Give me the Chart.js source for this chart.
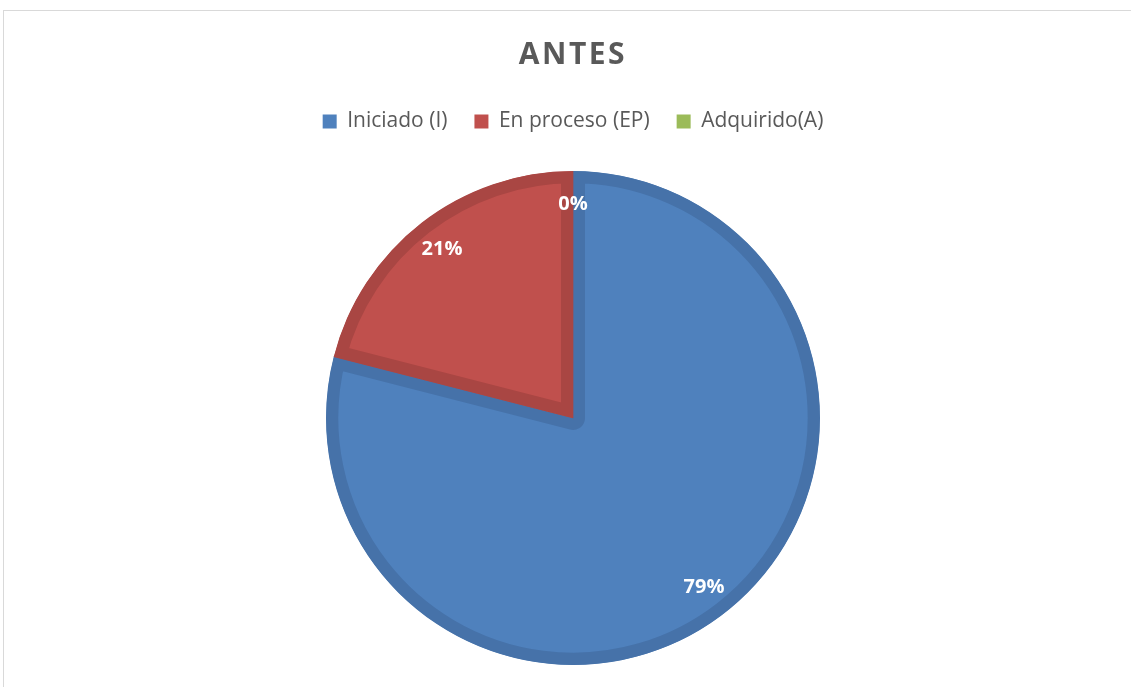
<!DOCTYPE html>
<html>
<head>
<meta charset="utf-8">
<script src="https://cdn.jsdelivr.net/npm/chart.js@4/dist/chart.umd.min.js"></script>
<style>
  html, body { margin: 0; padding: 0; background: #fff; overflow: hidden; }
  #frame {
    position: absolute; left: 3px; top: 10px; width: 1200px; height: 800px;
    border-top: 1px solid #d9d9d9; border-left: 1px solid #d9d9d9;
  }
  #wrap { position: absolute; left: 15px; top: 0; width: 1116px; height: 687px; }
</style>
</head>
<body>
<div id="frame"></div>
<div id="wrap"><canvas id="chart"></canvas></div>
<script>
'use strict';

// ---- data ----
var TITLE      = 'ANTES';
var CATEGORIES = ['Iniciado (I)', 'En proceso (EP)', 'Adquirido(A)'];
var PERCENTS   = [79, 21, 0];
var FILLS      = ['#4f81bd', '#c0504d', '#9bbb59'];
var EDGES      = ['#4672a9', '#a94643', '#8aa84f'];

var FONT = '"Open Sans", "Liberation Sans", sans-serif';
var TEXT = '#595959';

// extra room under the legend, and a little letter spacing on the title
var layoutTweaks = {
  id: 'layoutTweaks',
  beforeInit: function (chart) {
    var fit = chart.legend.fit;
    chart.legend.fit = function () { fit.call(this); this.height += 29; };
    var drawTitle = chart.titleBlock.draw;
    chart.titleBlock.draw = function () {
      var ctx = this.ctx;
      var prev = ctx.letterSpacing;
      ctx.letterSpacing = '2.5px';
      drawTitle.apply(this, arguments);
      ctx.letterSpacing = prev || '0px';
    };
  }
};

// white percentage labels inside the slices
var sliceLabels = {
  id: 'sliceLabels',
  afterDatasetsDraw: function (chart) {
    var ctx = chart.ctx;
    var arcs = chart.getDatasetMeta(0).data;
    ctx.save();
    ctx.font = 'bold 20px ' + FONT;
    ctx.fillStyle = '#ffffff';
    ctx.textAlign = 'center';
    ctx.textBaseline = 'middle';
    arcs.forEach(function (arc, i) {
      var mid = (arc.startAngle + arc.endAngle) / 2;
      var r = arc.outerRadius * 0.865;
      ctx.fillText(PERCENTS[i] + '%', arc.x + Math.cos(mid) * r, arc.y + Math.sin(mid) * r);
    });
    ctx.restore();
  }
};

new Chart(document.getElementById('chart').getContext('2d'), {
  type: 'pie',
  data: {
    labels: CATEGORIES,
    datasets: [{
      data: PERCENTS,
      backgroundColor: FILLS,
      borderColor: EDGES,
      borderWidth: 12,
      borderAlign: 'inner',
      hoverOffset: 0
    }]
  },
  options: {
    responsive: true, maintainAspectRatio: false,
    animation: false,
    events: [],
    layout: { padding: { bottom: 22 } },
    plugins: {
      title: {
        display: true, text: TITLE, color: TEXT,
        font: { family: FONT, size: 30, weight: 'bold' },
        padding: { top: 37, bottom: 11 }
      },
      legend: {
        position: 'top',
        labels: {
          color: TEXT, boxWidth: 14, boxHeight: 14, padding: 27,
          font: { family: FONT, size: 21 },
          generateLabels: function (chart) {
            return CATEGORIES.map(function (name, i) {
              return { text: name, fillStyle: FILLS[i], strokeStyle: FILLS[i],
                       lineWidth: 0, fontColor: TEXT, hidden: false, index: i };
            });
          }
        }
      },
      tooltip: { enabled: false }
    }
  },
  plugins: [layoutTweaks, sliceLabels]
});
</script>
</body>
</html>
